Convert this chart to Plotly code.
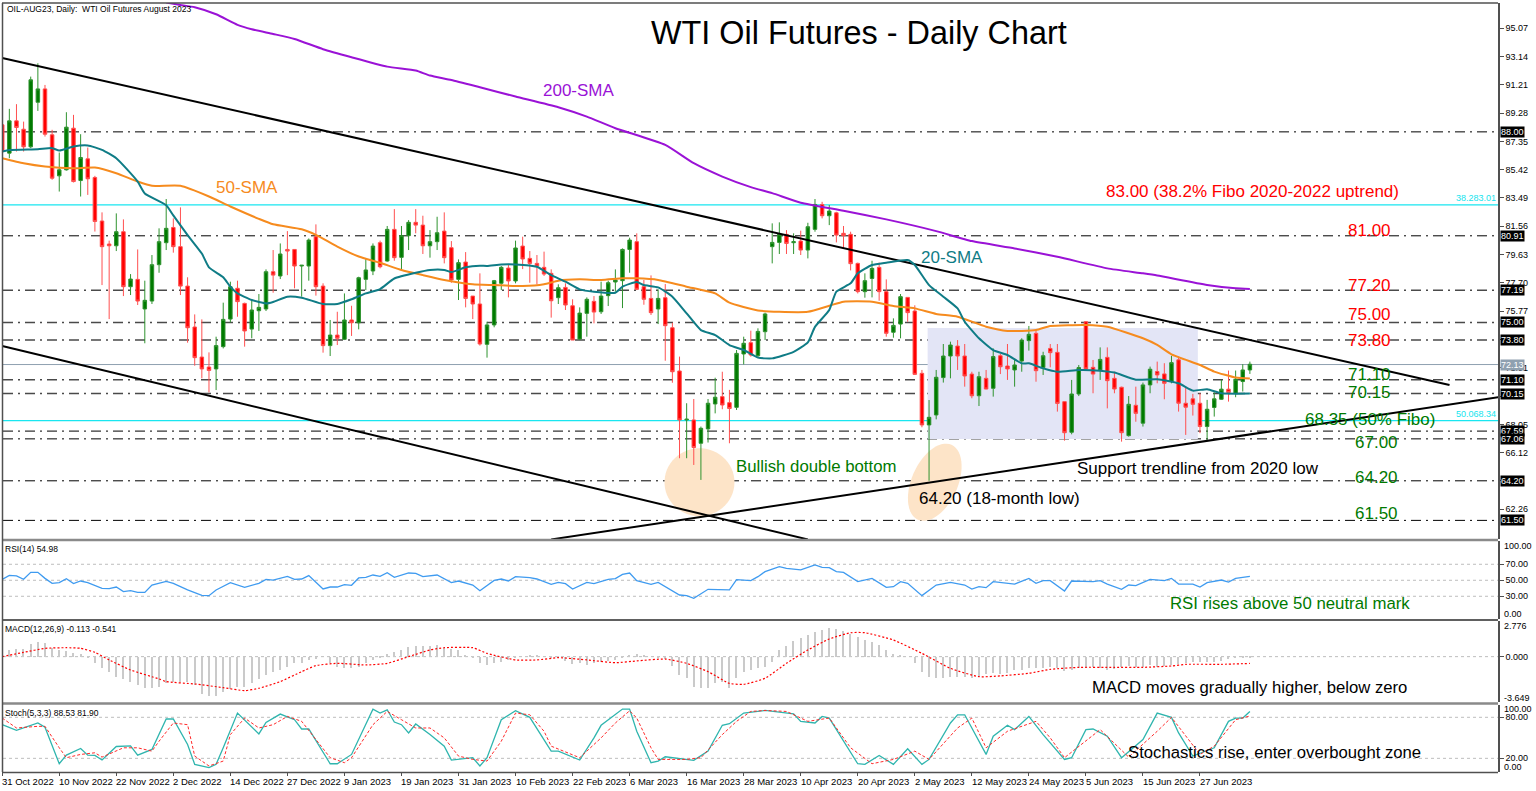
import numpy as np
import plotly.graph_objects as go

#Daily candles, bar 0 is 31 Oct 2022
opens=[88.48,86.55,88.75,88.18,86.98,90.02,90.93,87.8,85.0,85.41,88.25,84.68,86.16,84.89,81.92,80.35,80.23,81.19,77.44,77.94,
75.92,76.46,78.94,80.44,81.48,80.17,77.48,74.69,72.64,71.96,71.83,73.35,75.23,77.33,76.3,74.55,75.8,75.92,78.46,78.17,
79.98,79.98,78.85,78.85,80.85,77.48,73.42,74.14,73.85,75.17,74.98,77.94,78.51,80.44,79.19,81.35,79.44,80.92,81.83,81.64,
80.23,80.51,81.23,80.1,77.94,79.12,76.8,76.26,73.51,74.83,77.67,78.71,77.83,80.21,79.37,79.03,78.76,78.35,76.69,77.39,
76.14,73.87,75.62,76.44,75.73,76.83,77.76,77.85,79.98,80.51,77.44,76.64,75.92,76.69,74.64,71.69,68.35,68.35,66.76,67.74,
69.44,69.94,69.53,69.21,72.85,73.62,72.73,74.37,80.17,80.46,81.01,80.44,80.55,79.94,81.35,83.05,82.28,82.48,81.08,81.01,
79.03,77.1,78.0,78.76,77.1,74.33,74.89,76.71,75.78,71.53,68.01,68.69,71.24,72.71,73.39,72.71,71.48,70.0,71.19,70.51,
72.73,72.03,71.76,72.37,73.76,74.26,71.92,73.23,72.96,69.6,67.51,70.12,75.05,71.94,71.76,72.62,71.19,70.58,67.28,69.35,
68.13,70.74,71.65,71.49,70.97,72.45,69.49,69.79,69.49,67.9,69.2,69.76,70.45,70.17,70.97,71.76]
highs=[88.5,89.57,89.89,88.7,91.77,92.68,91.2,88.14,86.59,89.34,89.16,87.84,86.93,85.0,82.51,80.58,82.44,82.03,78.3,79.98,
77.85,79.6,81.42,83.42,82.1,82.85,78.08,75.55,75.21,72.96,74.03,76.35,77.78,77.85,76.35,76.53,76.94,78.62,79.94,80.39,
81.23,79.98,78.92,80.73,81.69,77.67,75.17,75.73,76.98,76.14,78.12,79.37,80.39,80.58,81.58,82.73,81.58,81.98,82.73,82.28,
81.3,82.21,82.51,80.55,79.3,79.8,76.8,78.35,75.05,77.9,78.85,78.92,80.58,80.85,79.87,79.6,79.83,78.62,77.6,77.67,
76.58,76.03,76.71,76.8,77.78,77.85,78.62,80.05,80.78,81.08,77.9,78.21,77.26,77.62,74.98,72.67,69.49,69.78,67.9,69.78,
71.23,71.64,70.4,73.12,74.03,74.44,74.6,75.67,81.76,81.83,81.3,81.08,81.26,81.8,83.42,83.23,83.01,82.55,81.58,81.19,
79.08,78.35,79.21,79.08,77.94,75.28,76.94,76.71,76.17,71.76,69.71,71.76,73.53,73.69,73.8,73.53,71.64,71.64,71.76,73.23,
72.85,73.53,72.44,73.92,74.76,74.48,73.0,73.53,73.53,69.6,71.08,72.1,75.05,72.44,73.3,73.3,71.64,70.62,69.98,70.62,
70.9,71.99,72.33,72.22,72.72,72.67,70.63,70.13,70.17,69.72,70.24,71.08,71.72,71.72,72.15,72.33]
lows=[86.5,86.2,86.66,86.66,86.89,89.43,87.68,84.73,83.93,85.36,84.55,83.59,83.7,81.2,77.55,75.23,79.87,76.8,76.87,76.19,
73.58,76.26,78.39,79.94,79.76,76.87,73.62,72.05,71.19,70.23,70.39,73.23,75.0,75.39,73.35,73.92,74.42,75.78,77.03,77.96,
78.23,77.33,76.76,77.85,76.83,72.94,72.71,73.46,73.8,74.08,74.53,77.21,78.23,78.69,79.14,79.21,78.58,79.94,81.08,79.67,
79.42,79.94,79.03,77.71,76.53,76.03,75.23,73.42,72.6,74.67,77.21,76.71,77.67,78.64,77.71,77.6,78.17,75.33,76.26,75.85,
73.8,73.8,74.03,74.94,75.58,76.12,77.1,75.98,78.39,77.21,76.21,75.51,74.89,72.39,70.89,65.74,65.74,65.28,64.26,66.81,
68.8,69.08,66.76,69.03,72.14,72.67,72.6,73.8,79.03,79.67,79.67,79.67,79.6,79.37,81.19,82.1,81.64,80.46,80.05,78.55,
76.98,76.69,76.71,76.48,74.03,73.96,73.92,75.05,71.42,67.85,64.2,68.39,70.9,71.19,71.76,70.62,69.83,69.3,70.44,69.94,
71.48,71.08,70.62,71.64,73.08,70.96,71.42,71.94,68.92,66.94,67.37,69.98,71.76,70.17,71.08,69.14,70.17,66.87,67.21,68.23,
67.9,70.17,70.85,69.76,70.85,68.92,67.33,68.65,67.45,67.0,68.58,69.72,69.6,69.9,70.29,71.49]
closes=[86.66,88.75,88.3,86.98,91.55,90.93,87.84,84.84,85.41,88.32,84.61,86.25,84.8,81.89,80.17,80.23,81.19,77.44,77.96,76.46,
76.51,78.94,80.51,81.42,80.17,77.48,74.64,72.6,71.83,71.73,73.42,75.21,77.44,76.42,74.42,75.85,76.03,78.46,78.23,79.67,
79.87,78.85,78.9,80.62,77.44,73.42,74.14,73.92,75.17,74.98,78.05,78.58,80.21,78.8,81.35,79.42,80.92,81.83,81.64,80.23,
80.51,81.12,79.42,77.9,79.08,76.64,76.26,73.53,74.83,77.85,78.76,77.83,80.08,79.33,79.03,78.85,78.3,76.48,77.37,76.19,
73.8,75.64,76.58,75.71,76.8,77.71,77.9,79.98,80.62,77.26,76.58,75.67,76.64,74.78,71.64,68.35,68.4,66.47,67.78,69.49,
69.9,69.37,69.13,72.89,73.58,72.78,74.39,75.58,80.46,81.03,80.39,80.51,79.94,81.53,83.05,82.28,82.6,80.96,80.92,79.01,
77.1,77.85,78.69,77.1,74.26,74.8,76.76,75.67,71.46,68.01,68.53,71.26,72.71,73.46,72.71,71.35,70.0,71.3,70.46,72.67,
71.98,71.83,72.1,73.8,74.19,71.71,72.73,72.94,69.48,67.48,70.12,71.92,71.83,71.48,72.48,71.03,70.46,67.48,69.42,68.8,
70.74,71.81,71.42,70.85,72.26,69.49,69.22,69.42,67.9,69.08,69.79,70.45,70.22,71.13,71.76,72.15]

#Moving averages, read at the bars where the line bends
sma20_bar=[0,1,5,7,8,10,12,14,16,19,20,23,24,26,28,29,31,32,33,35,37,38,40,42,45,47,49,51,53,55,58,60,62,63,65,67,68,70,72,75,77,79,81,83,86,87,89,90,92,94,96,98,100,102,104,106,108,111,113,114,116,117,119,120,122,124,127,128,130,132,134,135,137,139,141,143,144,146,148,151,154,156,159,162,165,167,169,171,175]
sma20_val=[86.66,86.77,86.82,86.89,86.73,87.0,87.07,86.77,86.2,84.61,83.8,83.0,82.3,80.96,79.7,78.76,78.08,77.44,76.98,76.53,76.3,76.4,76.76,76.69,76.26,76.26,76.58,76.98,77.28,78.0,78.39,78.58,78.58,78.44,78.76,78.87,78.85,78.96,78.96,78.8,78.23,77.78,77.26,77.1,77.03,77.44,77.76,77.55,77.39,76.76,75.62,74.48,74.14,73.46,73.12,72.6,72.55,73.0,73.64,74.7,75.85,77.1,77.67,78.35,78.92,79.08,79.26,78.92,77.55,76.76,75.96,75.05,73.92,73.12,72.78,72.21,72.21,71.87,71.64,71.76,71.71,71.58,71.1,71.13,70.85,70.35,70.45,70.17,70.15]
sma50_bar=[0,3,6,10,13,16,19,21,25,29,32,36,38,42,44,47,50,53,56,59,62,66,69,73,76,78,81,84,87,89,92,96,100,102,106,109,113,116,118,122,125,128,131,134,138,141,145,147,152,155,160,162,164,168,170,173,175]
sma50_val=[86.2,85.86,85.64,85.52,85.57,85.18,84.61,84.32,84.32,83.59,82.91,82.07,81.7,81.36,80.98,80.18,79.5,79.07,78.58,78.23,77.9,77.6,77.55,77.48,77.6,77.85,77.94,77.9,78.01,78.01,77.9,77.44,76.98,76.35,75.82,75.73,75.73,76.14,76.42,76.42,76.12,75.96,75.58,75.39,74.71,74.42,74.48,74.76,74.83,74.71,73.92,73.47,72.83,72.1,71.65,71.24,71.17]
sma200_bar=[23,25,27,30,33,35,38,41,45,49,54,58,60,63,67,72,78,82,86,93,97,101,105,108,112,118,124,131,136,142,148,155,160,162,169,173,175]
sma200_val=[96.82,96.66,96.5,96.02,95.3,95.0,94.68,94.34,93.64,93.09,92.45,92.18,91.84,91.54,91.04,90.41,89.68,89.04,88.25,87.11,85.86,84.95,84.23,83.82,83.17,82.62,82.03,81.23,80.55,80.05,79.48,78.69,78.35,78.2,77.56,77.33,77.29]

#RSI
rsi_bar=[0,1,2,3,4,5,6,7,8,9,10,11,12,14,15,16,17,18,19,20,21,23,24,26,28,29,30,32,34,35,36,37,38,40,41,42,43,45,46,47,48,49,50,51,52,53,54,55,57,58,59,61,63,64,66,67,69,70,71,72,74,75,77,78,79,80,82,83,85,86,87,88,89,91,92,95,96,97,99,102,103,105,106,107,109,110,112,114,115,116,117,118,120,122,124,125,126,127,129,131,133,135,136,137,138,139,142,144,145,146,147,149,150,153,154,155,157,158,159,161,163,164,165,167,168,169,171,172,173,175]
rsi_val=[51.2,56.2,55.4,51.2,59.9,59.9,52.4,46.2,47.0,52.0,45.8,49.1,47.0,39.9,39.5,41.6,35.8,37.0,34.9,34.9,44.1,48.7,46.2,37.9,31.2,30.8,37.9,47.0,41.2,44.1,46.2,51.2,50.3,54.9,51.2,51.6,55.8,39.1,41.6,41.6,44.5,43.7,52.9,53.7,56.6,54.9,59.5,53.7,59.1,58.7,54.5,56.6,47.0,49.1,44.1,37.0,49.9,51.6,49.1,54.5,53.3,51.6,44.9,47.4,45.8,39.1,47.4,45.8,51.2,52.0,57.4,59.1,49.5,44.9,47.4,31.6,30.8,27.4,38.7,37.9,50.8,49.5,54.5,60.8,67.0,64.9,62.9,69.1,66.2,65.8,60.8,59.9,48.3,52.4,41.2,42.0,48.3,46.2,30.8,44.1,47.4,44.1,39.1,42.0,40.8,48.3,45.3,52.4,46.2,49.5,49.5,36.6,49.1,48.3,49.5,45.3,38.7,44.1,43.3,51.2,49.5,52.4,45.3,45.3,41.6,47.0,50.3,47.8,52.4,54.98]

#MACD histogram has one value per bar, signal is read where it bends
macd_hist=[.26,.53,.61,.61,.98,1.14,1.06,.66,.53,.45,.26,.19,-.08,-.53,-.87,-1.24,-1.59,-1.77,-1.98,-2.25,
-2.51,-2.46,-2.38,-2.12,-1.98,-1.98,-1.98,-2.25,-2.99,-3.12,-3.12,-2.78,-2.57,-2.38,-2.38,-2.12,-1.77,-1.46,-1.19,-1.06,
-.79,-.53,-.53,-.26,-.19,0,-.53,-.79,-.93,-.93,-.79,-.53,-.26,-.13,.19,.34,.53,.79,.87,.87,
.87,.93,.66,.61,.53,.13,-.08,-.53,-.66,-.53,-.40,-.26,-.08,0,.08,.08,0,-.08,-.13,-.34,
-.61,-.53,-.66,-.53,-.40,-.34,-.26,-.13,.13,.19,.08,0,-.08,-.19,-.71,-1.46,-1.72,-2.38,-2.51,-2.46,
-2.12,-1.98,-2.46,-1.72,-1.19,-1.06,-.93,-.79,-.40,.53,.87,1.24,1.46,1.72,1.98,2.12,2.25,2.20,2.06,1.77,
1.59,1.32,1.19,.93,.53,.19,.08,0,-.53,-1.19,-1.59,-1.72,-1.67,-1.59,-1.59,-1.59,-1.67,-1.59,-1.40,-1.32,
-1.40,-1.32,-1.06,-1.06,-.93,-.87,-.93,-.79,-.93,-1.14,-1.06,-.93,-.87,-.79,-.87,-1.06,-.98,-.79,-.71,-.79,
-.79,-.66,-.79,-.71,-.66,-.61,-.53,-.45,-.45,-.45,-.40,-.34,-.19,-.13,-.03,-.113]
macd_signal_bar=[0,3,6,9,11,13,15,18,22,23,27,31,34,36,39,42,44,47,51,54,57,60,62,66,68,72,75,78,82,86,89,93,96,99,102,104,107,110,113,116,119,121,125,129,133,137,140,144,147,151,156,160,164,166,171,175]
macd_signal_val=[0,.34,.66,.71,.66,.34,-.26,-1.06,-1.77,-1.98,-2.17,-2.46,-2.70,-2.51,-1.98,-1.19,-.71,-.53,-.66,-.53,0,.53,.71,.71,.26,-.26,-.26,-.08,-.26,-.48,-.34,-.19,-.53,-1.19,-2.12,-2.20,-1.72,-.53,.53,1.40,1.90,1.90,1.32,.26,-.93,-1.59,-1.53,-1.32,-1.01,-.85,-.85,-.85,-.74,-.61,-.61,-.541]

#Stochastics
stoch_main_bar=[0,2,5,6,8,9,11,12,13,14,16,18,19,21,23,24,26,27,29,30,31,33,36,37,39,41,42,43,46,47,49,52,53,54,55,56,57,58,60,62,63,65,66,67,68,70,72,74,77,78,81,83,84,87,88,89,91,92,93,97,99,101,102,104,107,111,112,114,115,116,118,120,121,123,125,127,129,130,133,134,135,138,139,141,142,144,146,149,150,152,153,155,157,160,162,164,165,167,170,172,173,174,175]
stoch_main_val=[69.2,61.0,71.7,65.4,12.1,24.7,34.4,24.7,24.2,17.5,37.3,38.3,24.7,33.0,77.5,77.5,40.2,11.2,6.3,11.2,35.4,86.2,55.7,72.6,84.7,76.5,62.9,62.9,12.1,12.1,25.7,92.0,86.2,91.0,73.1,69.2,57.1,70.2,54.7,37.8,17.5,19.9,20.9,8.8,20.9,76.5,89.6,79.9,30.5,30.5,17.5,49.9,68.3,92.0,92.0,59.6,13.6,16.0,22.3,17.0,30.5,68.3,70.7,86.2,90.0,85.2,74.1,71.7,81.3,78.9,45.0,12.1,11.2,24.2,11.2,33.9,11.2,18.4,71.7,83.7,83.7,25.7,52.3,68.3,62.0,81.3,54.7,18.4,20.9,62.0,62.9,52.3,20.9,47.5,86.2,79.9,57.1,23.3,35.4,74.1,78.9,78.9,88.53]
stoch_sig_bar=[0,2,5,6,8,9,11,13,14,17,19,21,22,24,26,27,29,31,32,34,36,38,40,42,44,46,48,49,52,54,56,58,60,62,64,66,68,70,72,74,76,77,81,84,86,88,89,91,92,96,98,101,103,105,107,110,113,116,119,122,125,128,130,134,136,138,141,145,147,149,154,155,158,162,164,168,170,173,175]
stoch_sig_val=[78.9,64.4,66.8,66.8,35.4,20.9,25.7,28.1,21.8,35.4,35.4,30.5,45.0,71.7,69.2,23.3,8.8,16.0,54.7,78.9,64.4,69.2,81.3,74.1,47.5,20.9,13.6,20.9,69.2,88.6,76.5,64.4,64.4,49.9,23.3,18.4,16.0,45.0,86.2,83.7,59.6,37.8,20.9,49.9,71.7,89.5,78.9,35.4,18.4,18.4,20.9,54.7,74.1,88.6,90.0,88.6,74.1,78.9,35.4,12.1,18.4,30.5,18.4,64.4,78.9,35.4,59.6,74.1,49.9,20.9,62.0,52.3,21.8,59.6,79.9,25.7,37.8,76.5,81.9]

#Date labels, one every 8 bars
date_labels=["31 Oct 2022","10 Nov 2022","22 Nov 2022","2 Dec 2022","14 Dec 2022","27 Dec 2022","9 Jan 2023","19 Jan 2023","31 Jan 2023","10 Feb 2023","22 Feb 2023","6 Mar 2023","16 Mar 2023","28 Mar 2023","10 Apr 2023","20 Apr 2023","2 May 2023","12 May 2023","24 May 2023","5 Jun 2023","15 Jun 2023","27 Jun 2023"]
price_ticks=[95.07,93.14,91.21,89.28,87.35,85.42,83.49,81.56,79.63,77.70,75.77,73.84,71.91,69.98,68.05,66.12,64.19,62.26]
#these three sit behind a level label in the picture
price_tick_text=["95.07","93.14","91.21","89.28","87.35","85.42","83.49","81.56","79.63","77.70","75.77","","71.91","","68.05","66.12","","62.26"]

#Horizontal levels and their labels on the price scale
black_levels=[88.00,80.91,64.20,61.50,67.59,67.06]
grey_levels=[77.19,75.00,73.80,71.10,70.15]
fibo_levels=[83.02,68.30]
fibo_labels=["38.283.01","50.068.34"]
last_price=72.13
upper_trend_bar=[0,203]
upper_trend_val=[93.04,70.73]
lower_trend_bar=[0,113]
lower_trend_val=[73.39,60.2]
support_bar=[77,210]
support_val=[60.2,69.92]
box_bars=[129.8,167.7]
box_vals=[67.05,74.62]

GREEN="#007A00"
RED="#FF0000"
TEAL="#0F7C86"
ORANGE="#F68B1E"
PURPLE="#9A12D6"
FONT="Liberation Sans"
W=1536
H=791

def fx(px_x):
    return px_x/W

def fy(px_y):
    return 1-px_y/H

def blob(k,p,a,b,tilt):
    #tilted ellipse given in pixels, turned into bar and price units
    t=np.linspace(0,2*np.pi,60)
    dx=a*np.cos(t)*np.cos(tilt)-b*np.sin(t)*np.sin(tilt)
    dy=a*np.cos(t)*np.sin(tilt)+b*np.sin(t)*np.cos(tilt)
    pts=[f"{k+u/7.13:.3f},{p+v/14.66:.3f}" for u,v in zip(dx,dy)]
    return "M"+" L".join(pts)+" Z"

bars=list(range(len(closes)))
fig=go.Figure()

fig.add_trace(go.Candlestick(x=bars,open=opens,high=highs,low=lows,close=closes,xaxis="x",yaxis="y",whiskerwidth=0,
    increasing=dict(fillcolor=GREEN,line=dict(color="#2F932F",width=1)),
    decreasing=dict(fillcolor=RED,line=dict(color="#FF5050",width=1))))
fig.add_trace(go.Scatter(x=upper_trend_bar,y=upper_trend_val,mode="lines",line=dict(color="black",width=2)))
fig.add_trace(go.Scatter(x=lower_trend_bar,y=lower_trend_val,mode="lines",line=dict(color="black",width=2)))
fig.add_trace(go.Scatter(x=support_bar,y=support_val,mode="lines",line=dict(color="black",width=2)))
fig.add_trace(go.Scatter(x=sma200_bar,y=sma200_val,mode="lines",line=dict(color=PURPLE,width=2,shape="spline",smoothing=0.5)))
fig.add_trace(go.Scatter(x=sma50_bar,y=sma50_val,mode="lines",line=dict(color=ORANGE,width=2,shape="spline",smoothing=0.5)))
fig.add_trace(go.Scatter(x=sma20_bar,y=sma20_val,mode="lines",line=dict(color=TEAL,width=2,shape="spline",smoothing=0.5)))

fig.add_trace(go.Scatter(x=rsi_bar,y=rsi_val,yaxis="y2",mode="lines",line=dict(color="#3F9BF0",width=1.3)))

fig.add_trace(go.Bar(x=bars,y=macd_hist,yaxis="y3",width=0.18,marker=dict(color="#CACACA",line=dict(width=0))))
fig.add_trace(go.Scatter(x=macd_signal_bar,y=macd_signal_val,yaxis="y3",mode="lines",line=dict(color="#FF0000",width=1.2,dash="2px,2px",shape="spline",smoothing=0.5)))

fig.add_trace(go.Scatter(x=stoch_main_bar,y=stoch_main_val,yaxis="y4",mode="lines",line=dict(color="#2FB5AE",width=1.3)))
fig.add_trace(go.Scatter(x=stoch_sig_bar,y=stoch_sig_val,yaxis="y4",mode="lines",line=dict(color="#FF2A2A",width=1,dash="3px,2px")))

shapes=[]
#shaded range and the two orange highlights sit under everything
shapes.append(dict(type="rect",xref="x",yref="y",x0=box_bars[0],x1=box_bars[1],y0=box_vals[0],y1=box_vals[1],fillcolor="#E3E5F6",line=dict(width=0),layer="below"))
shapes.append(dict(type="path",xref="x",yref="y",path=blob(97.8,64.1,35,34,0),fillcolor="#FDE4C8",line=dict(width=0),layer="below"))
shapes.append(dict(type="path",xref="x",yref="y",path=blob(130.8,64.1,41,23,1.15),fillcolor="#FDE4C8",line=dict(width=0),layer="below"))

dash_dot="10px,5px,2px,5px"
for v in black_levels:
    shapes.append(dict(type="line",xref="paper",yref="y",x0=fx(3),x1=fx(1494),y0=v,y1=v,line=dict(color="black",width=1,dash=dash_dot),layer="below"))
for v in grey_levels:
    shapes.append(dict(type="line",xref="paper",yref="y",x0=fx(3),x1=fx(1494),y0=v,y1=v,line=dict(color="#4A4A4A",width=1.5,dash=dash_dot),layer="below"))
for v in fibo_levels:
    shapes.append(dict(type="line",xref="paper",yref="y",x0=fx(3),x1=fx(1498),y0=v,y1=v,line=dict(color="#19E6F0",width=1.2),layer="below"))
shapes.append(dict(type="line",xref="paper",yref="y",x0=fx(3),x1=fx(1498),y0=last_price,y1=last_price,line=dict(color="#8FA0B0",width=1),layer="below"))

#dotted guide levels of the three lower panes
for axis,levels in (("y2",[30,50,70]),("y3",[0]),("y4",[20,80])):
    for v in levels:
        shapes.append(dict(type="line",xref="paper",yref=axis,x0=fx(3),x1=fx(1498),y0=v,y1=v,line=dict(color="#BDBDBD",width=1,dash="dot"),layer="below"))

#pane separators
for y_px,colour,width in ((3,"#505050",1.5),(540,"#8A8A8A",2.5),(620,"#606060",2),(703.5,"#8A8A8A",2.5),(772.5,"#505050",1.5)):
    shapes.append(dict(type="line",xref="paper",yref="paper",x0=fx(2),x1=fx(1498),y0=fy(y_px),y1=fy(y_px),line=dict(color=colour,width=width)))
shapes.append(dict(type="line",xref="paper",yref="paper",x0=fx(2.5),x1=fx(2.5),y0=fy(3),y1=fy(772),line=dict(color="#505050",width=1.5)))

def note(text,x,y,size,color,anchor="left"):
    return dict(text=text,xref="paper",yref="paper",x=fx(x),y=fy(y),xanchor=anchor,yanchor="middle",showarrow=False,font=dict(family=FONT,size=size,color=color))

annotations=[
    note("WTI Oil Futures - Daily Chart",859,33,32.4,"black","center"),
    note("OIL-AUG23, Daily:  WTI Oil Futures August 2023",5,9,8.5,"black"),
    note("200-SMA",541,90,17,PURPLE),
    note("50-SMA",214,187,17,ORANGE),
    note("20-SMA",919,257,17,TEAL),
    note("83.00 (38.2% Fibo 2020-2022 uptrend)",1104,192,17,RED),
    note("81.00",1346,230,17,RED),
    note("77.20",1346,285,17,RED),
    note("75.00",1346,315,17,RED),
    note("73.80",1346,340,17,RED),
    note("71.10",1346,374,17,GREEN),
    note("70.15",1346,392,17,GREEN),
    note("68.35 (50% Fibo)",1303,419,17,GREEN),
    note("67.00",1353,442,17,GREEN),
    note("64.20",1353,477,17,GREEN),
    note("61.50",1353,513,17,GREEN),
    note("Bullish double bottom",734,466,16.8,GREEN),
    note("Support trendline from 2020 low",1075,468,17,"black"),
    note("64.20 (18-month low)",917,498,17,"black"),
    note("RSI(14) 54.98",3,549,8.5,"black"),
    note("RSI rises above 50 neutral mark",1168,603,16.8,GREEN),
    note("MACD(12,26,9) -0.113 -0.541",3,629,8.5,"black"),
    note("MACD moves gradually higher, below zero",1090,687,16.7,"black"),
    note("Stoch(5,3,3) 88.53 81.90",3,713,8.5,"black"),
    note("Stochastics rise, enter overbought zone",1126,752,16.7,"black"),
    note("100.00",1502,546,9,"black"),
    note("0.00",1502,614,9,"black"),
    note("2.776",1502,626,9,"black"),
    note("-3.649",1502,698,9,"black"),
    note("100.00",1502,709,9,"black"),
    note("0.00",1502,767,9,"black"),
]

for lab,v in zip(fibo_labels,fibo_levels):
    annotations.append(dict(text=lab,xref="paper",yref="y",x=fx(1498),y=v,xanchor="right",yanchor="bottom",showarrow=False,font=dict(family=FONT,size=9,color="#14E4EE")))

for v in black_levels+grey_levels:
    annotations.append(dict(text=f"{v:.2f}",xref="paper",yref="y",x=fx(1500),y=v,xanchor="left",yanchor="middle",showarrow=False,bgcolor="black",borderpad=0,font=dict(family=FONT,size=9,color="white")))
annotations.append(dict(text=f"{last_price:.2f}",xref="paper",yref="y",x=fx(1500),y=last_price,xanchor="left",yanchor="middle",showarrow=False,bgcolor="#8FA0B0",borderpad=0,font=dict(family=FONT,size=9,color="white")))

date_ticks=[i*8 for i in range(len(date_labels))]
for tick,lab in zip(date_ticks,date_labels):
    annotations.append(dict(text=lab,xref="x",yref="paper",x=tick,y=fy(781),xanchor="left",yanchor="middle",xshift=-2,showarrow=False,font=dict(family=FONT,size=9.5,color="black")))

def pane(lo,hi,top_px,bottom_px,ticks,fmt,text=None):
    axis=dict(domain=[fy(bottom_px),fy(top_px)],range=[lo,hi],anchor="x",side="right",tickmode="array",tickvals=ticks,tickformat=fmt,
        showgrid=False,zeroline=False,showline=True,linecolor="#505050",linewidth=1.5,ticks="outside",ticklen=4,tickcolor="#505050",tickfont=dict(family=FONT,size=9,color="black"))
    if text:
        axis["ticktext"]=text
    return axis

fig.update_layout(
    width=W,height=H,margin=dict(l=0,r=0,t=0,b=0),autosize=False,
    paper_bgcolor="white",plot_bgcolor="white",showlegend=False,bargap=0,barmode="overlay",
    xaxis=dict(domain=[fx(2),fx(1498)],range=[-0.03,209.8],anchor="y4",rangeslider=dict(visible=False),tickmode="array",tickvals=date_ticks,ticktext=[""]*len(date_ticks),
        showgrid=False,zeroline=False,showline=False,ticks="outside",ticklen=3,tickcolor="#505050"),
    yaxis=pane(60.23,96.79,3,539,price_ticks,".2f",price_tick_text),
    yaxis2=pane(1.6,99.1,541,619,[30,50,70],".2f"),
    yaxis3=pane(-3.6,2.83,621,702,[0],".3f"),
    yaxis4=pane(0,98,705,772,[20,80],".2f"),
    shapes=shapes,annotations=annotations,
)

fig.write_html("out.html",config=dict(displayModeBar=False),post_script="document.body.style.margin='0';")
